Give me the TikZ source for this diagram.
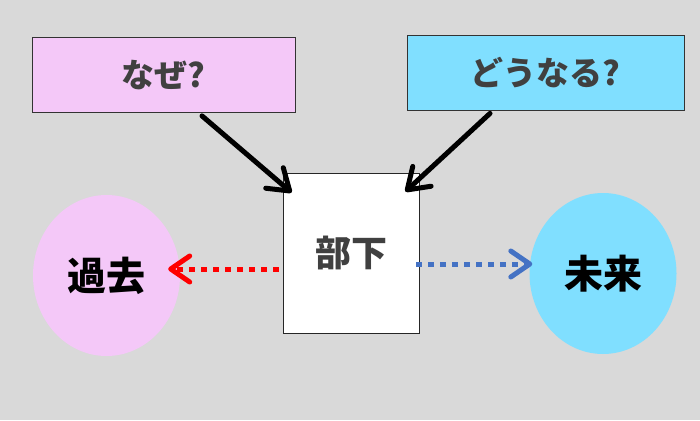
\documentclass[tikz,border=0pt]{standalone}
\usepackage{fontspec}
\usepackage{tikz}
\usetikzlibrary{arrows.meta}
\usetikzlibrary{positioning}
\newfontfamily\jpfont{Noto Sans CJK JP}
\definecolor{mbg}{HTML}{D9D9D9}
\definecolor{mpink}{HTML}{F4C8F8}
\definecolor{mcyan}{HTML}{80DFFF}
\definecolor{mtext}{HTML}{404040}
\definecolor{mblue}{HTML}{4472C4}
\tikzset{qbox/.style = {draw=black!80, line width=0.8pt, minimum width=263pt,
                        minimum height=75pt, font=\jpfont\bfseries\fontsize{33}{33}\selectfont,
                        text=mtext},
         timeblob/.style = {ellipse, minimum width=147pt, minimum height=161pt,
                            inner sep=0pt, font=\jpfont\bfseries\fontsize{39}{39}\selectfont},
         bigarrow/.style = {line width=5pt, line cap=round,
                            -{Straight Barb[length=20pt, width=27pt, round]}},
         dotarrow/.style = {line width=5pt, dash pattern=on 6pt off 6pt,
                            -{Straight Barb[length=19pt, width=26pt, round]}}}
\usetikzlibrary{shapes.geometric}

\begin{document}
\begin{tikzpicture}[x=1pt, y=-1pt]
    \fill [mbg] (0, 0) rectangle (700, 420);

    \node [qbox, fill=mpink] (why) at (163.5, 75) {なぜ?};
    \node [qbox, fill=mcyan, minimum width=277pt] (how) at (545.5, 72.5) {どうなる?};
    \node [draw=black!85, line width=0.8pt, fill=white, minimum width=136pt, minimum height=160pt,
           font=\jpfont\bfseries\fontsize{36}{36}\selectfont, text=mtext] (buka) at (351, 253) {部下};
    \node [timeblob, fill=mpink] (past) at (106.5, 275.5) {過去};
    \node [timeblob, fill=mcyan] (future) at (603, 273.5) {未来};

    \draw [bigarrow] ([shift={(38.5, 3)}]why.south) -- ([shift={(9, 20)}]buka.north west);
    \draw [bigarrow] ([shift={(-55.5, 3)}]how.south) -- ([shift={(-14, 19)}]buka.north east);
    \draw [dotarrow, red] ([shift={(-4, 16)}]buka.west) -- ([shift={(-12, -6.5)}]past.east);
    \draw [dotarrow, mblue] ([shift={(-3, 11)}]buka.east |- buka.center)
                            -- ([shift={(3, -9.5)}]future.west);
\end{tikzpicture}
\end{document}
